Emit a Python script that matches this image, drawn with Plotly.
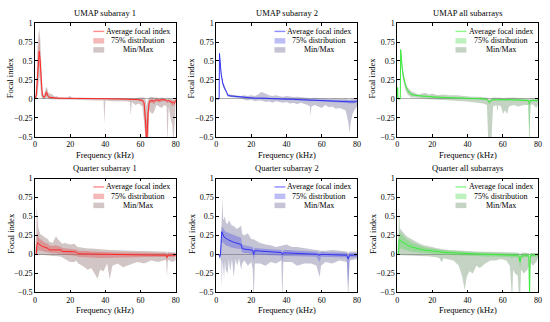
import plotly.graph_objects as go

# ---------------- data ----------------
titles = ["UMAP subarray 1", "UMAP subarray 2", "UMAP all subarrays",
          "Quarter subarray 1", "Quarter subarray 2", "Quarter all subarrays"]
y_tick_vals = [-0.5, -0.25, 0, 0.25, 0.5, 0.75, 1]
y_tick_text = ["\u22120.5", "\u22120.25", "0", "0.25", "0.5", "0.75", "1"]
x_tick_vals = [0, 20, 40, 60, 80]
legend_labels = ["Average focal index", "75% distribution", "Min/Max"]

# Panel 1 : UMAP subarray 1
p1_freq = [0, 0.8, 1.5, 2.0, 2.4, 3.0, 3.5, 4.2, 5.0, 5.8, 6.5, 7.0, 7.6, 8.5, 10, 11, 12, 14, 16, 18,
           20, 21, 23, 26, 30, 34, 38, 39, 39.4, 40, 44, 48, 52, 54, 54.4, 55, 57, 59, 61, 62,
           62.8, 63.5, 64.2, 65, 66.5, 67.5, 69, 70.5, 72, 73.5, 74.8, 75.2, 76, 77, 78, 78.7, 79.3, 80]
p1_avg = [0, 0.05, 0.3, 0.55, 0.63, 0.5, 0.25, 0.05, 0.02, 0.04, 0.09, 0.07, 0.03, 0.02, 0.02, 0.015, 0.01, 0.01, 0.01, 0.008,
          0.01, 0.008, 0.005, 0.005, 0.004, 0.003, 0.002, 0.002, 0.0, 0.002, 0.0, 0.0, -0.003, -0.005, -0.01, -0.005, -0.005, -0.01, -0.02, -0.05,
          -0.3, -0.6, -0.2, -0.03, -0.02, -0.03, -0.01, -0.02, -0.01, -0.01, -0.02, -0.03, -0.02, -0.03, -0.05, -0.04, -0.06, -0.01]
p1_q_hi = [0, 0.1, 0.45, 0.75, 0.8, 0.62, 0.35, 0.08, 0.03, 0.07, 0.13, 0.1, 0.05, 0.03, 0.03, 0.025, 0.02, 0.015, 0.015, 0.012,
           0.015, 0.012, 0.01, 0.01, 0.008, 0.006, 0.005, 0.005, 0.005, 0.005, 0.004, 0.004, 0.002, 0.0, 0.0, 0.0, 0.0, 0.0, 0.0, -0.02,
           -0.15, -0.3, -0.08, -0.01, 0.0, -0.01, 0.0, 0.0, 0.0, 0.0, -0.01, -0.01, -0.01, -0.01, -0.02, -0.02, -0.03, 0.0]
p1_q_lo = [0, 0.02, 0.2, 0.4, 0.45, 0.38, 0.15, 0.03, 0.01, 0.02, 0.05, 0.04, 0.015, 0.01, 0.01, 0.008, 0.005, 0.005, 0.005, 0.004,
           0.005, 0.004, 0.0, 0.0, 0.0, 0.0, -0.002, -0.002, -0.005, -0.002, -0.004, -0.005, -0.008, -0.01, -0.02, -0.01, -0.012, -0.02, -0.04, -0.1,
           -0.6, -0.7, -0.6, -0.06, -0.05, -0.07, -0.03, -0.05, -0.03, -0.03, -0.04, -0.06, -0.04, -0.06, -0.1, -0.08, -0.1, -0.02]
p1_min = [0, 0.0, 0.05, 0.2, 0.3, 0.2, 0.05, 0.0, 0.0, 0.0, 0.02, 0.01, 0.0, -0.005, -0.005, -0.005, -0.01, -0.005, -0.008, -0.01,
          -0.01, -0.01, -0.01, -0.015, -0.02, -0.02, -0.02, -0.02, -0.33, -0.02, -0.03, -0.03, -0.03, -0.04, -0.22, -0.04, -0.08, -0.06, -0.1, -0.3,
          -0.6, -0.7, -0.6, -0.15, -0.2, -0.18, -0.08, -0.1, -0.12, -0.08, -0.1, -0.6, -0.1, -0.25, -0.35, -0.6, -0.3, -0.05]
p1_max = [0, 0.2, 0.7, 0.9, 0.93, 0.8, 0.45, 0.12, 0.05, 0.1, 0.16, 0.14, 0.08, 0.07, 0.06, 0.03, 0.04, 0.02, 0.02, 0.02,
          0.04, 0.02, 0.015, 0.02, 0.015, 0.01, 0.01, 0.01, 0.01, 0.01, 0.01, 0.01, 0.01, 0.01, 0.01, 0.01, 0.01, 0.02, 0.015, 0.02,
          0.0, -0.1, 0.0, 0.02, 0.03, 0.02, 0.02, 0.01, 0.02, 0.01, 0.01, 0.0, 0.01, 0.01, 0.0, -0.01, 0.0, 0.0]

# Panel 2 : UMAP subarray 2
p2_freq = [0, 1.7, 1.9, 2.3, 2.8, 3.7, 4.7, 6.0, 6.5, 8, 10, 12, 14, 16, 18, 20, 22, 24, 25.5, 27,
           28.5, 30, 32, 34, 36, 38, 40, 42, 44, 46, 48, 50, 52, 53.3, 53.7, 54.1, 56, 58, 60, 62,
           64, 66, 68, 70, 72, 73.5, 75, 75.8, 76.5, 77.5, 78.5, 79.3, 80]
p2_avg = [0, 0, 0.6, 0.45, 0.34, 0.21, 0.145, 0.09, 0.05, 0.04, 0.035, 0.03, 0.025, 0.02, 0.015, 0.012, 0.01, 0.01, 0.012, 0.01,
          0.008, 0.005, 0.005, 0.003, 0.0, 0.0, -0.002, -0.005, -0.005, -0.008, -0.01, -0.01, -0.012, -0.015, -0.02, -0.015, -0.015, -0.018, -0.02, -0.02,
          -0.025, -0.025, -0.028, -0.03, -0.03, -0.03, -0.035, -0.04, -0.035, -0.04, -0.04, -0.035, -0.03]
p2_q_hi = [0, 0, 0.61, 0.47, 0.36, 0.23, 0.16, 0.1, 0.06, 0.05, 0.045, 0.04, 0.035, 0.03, 0.025, 0.022, 0.02, 0.02, 0.025, 0.022,
           0.018, 0.015, 0.014, 0.012, 0.01, 0.01, 0.008, 0.005, 0.004, 0.002, 0.0, 0.0, -0.002, -0.005, -0.01, -0.005, -0.005, -0.008, -0.01, -0.01,
           -0.014, -0.013, -0.016, -0.018, -0.018, -0.018, -0.02, -0.025, -0.02, -0.025, -0.025, -0.02, -0.018]
p2_q_lo = [0, 0, 0.58, 0.43, 0.32, 0.19, 0.13, 0.08, 0.04, 0.03, 0.025, 0.02, 0.015, 0.01, 0.005, 0.002, 0.0, 0.0, 0.0, -0.002,
           -0.003, -0.005, -0.006, -0.008, -0.01, -0.01, -0.012, -0.015, -0.016, -0.018, -0.02, -0.022, -0.025, -0.028, -0.04, -0.028, -0.028, -0.03, -0.032, -0.033,
           -0.038, -0.04, -0.042, -0.045, -0.045, -0.048, -0.055, -0.06, -0.055, -0.058, -0.058, -0.052, -0.045]
p2_min = [0, 0, 0.55, 0.4, 0.3, 0.18, 0.12, 0.07, 0.03, 0.025, 0.02, 0.015, 0.01, -0.01, -0.02, -0.01, -0.03, -0.02, -0.02, -0.03,
          -0.04, -0.03, -0.05, -0.03, -0.04, -0.05, -0.04, -0.06, -0.05, -0.07, -0.05, -0.06, -0.08, -0.1, -0.22, -0.1, -0.08, -0.1, -0.12, -0.08,
          -0.11, -0.1, -0.13, -0.12, -0.14, -0.15, -0.3, -0.45, -0.3, -0.2, -0.15, -0.12, -0.1]
p2_max = [0, 0, 0.62, 0.48, 0.37, 0.24, 0.17, 0.11, 0.07, 0.06, 0.05, 0.045, 0.04, 0.05, 0.04, 0.05, 0.04, 0.06, 0.09, 0.08,
          0.06, 0.05, 0.04, 0.05, 0.035, 0.03, 0.04, 0.03, 0.025, 0.03, 0.02, 0.02, 0.015, 0.01, 0.0, 0.01, 0.015, 0.01, 0.005, 0.01,
          0.0, 0.005, 0.0, 0.005, 0.0, 0.005, 0.0, -0.01, 0.0, 0.005, 0.01, 0.0, 0.01]

# Panel 3 : UMAP all subarrays
p3_freq = [0, 0.3, 0.45, 0.6, 1.8, 2.0, 2.5, 3, 4, 5, 6, 7, 8, 10, 12, 14, 16, 18, 20, 23,
           26, 30, 34, 38, 42, 46, 49, 51, 51.8, 52.6, 53.4, 54.5, 56.5, 57, 57.5, 59, 60.2, 61.2, 62.5, 63.5,
           66, 69, 72, 74.5, 75.1, 75.7, 77, 79, 80]
p3_avg = [0, 0.15, 0.05, 0, 0, 0.65, 0.5, 0.38, 0.25, 0.16, 0.11, 0.08, 0.06, 0.05, 0.04, 0.038, 0.035, 0.03, 0.025, 0.022,
          0.02, 0.015, 0.012, 0.01, 0.008, 0.005, 0.0, -0.005, -0.03, -0.04, -0.02, -0.01, -0.01, -0.015, -0.01, -0.01, -0.012, -0.015, -0.01, -0.01,
          -0.012, -0.015, -0.015, -0.02, -0.06, -0.02, -0.02, -0.02, -0.02]
p3_q_hi = [0, 0.15, 0.05, 0, 0, 0.66, 0.52, 0.4, 0.27, 0.18, 0.13, 0.1, 0.075, 0.06, 0.05, 0.048, 0.045, 0.04, 0.035, 0.03,
           0.028, 0.022, 0.02, 0.018, 0.015, 0.012, 0.008, 0.004, -0.01, -0.02, -0.005, 0.0, 0.0, -0.005, 0.0, 0.0, -0.002, -0.005, 0.0, 0.0,
           -0.002, -0.005, -0.005, -0.01, -0.03, -0.01, -0.01, -0.01, -0.01]
p3_q_lo = [0, 0.12, 0.03, 0, 0, 0.62, 0.47, 0.35, 0.22, 0.14, 0.09, 0.065, 0.045, 0.04, 0.03, 0.028, 0.025, 0.02, 0.015, 0.012,
           0.01, 0.006, 0.004, 0.002, 0.0, -0.003, -0.008, -0.015, -0.06, -0.07, -0.04, -0.02, -0.02, -0.03, -0.02, -0.02, -0.025, -0.03, -0.02, -0.02,
           -0.022, -0.028, -0.028, -0.035, -0.6, -0.035, -0.035, -0.035, -0.035]
p3_min = [0, 0.1, 0.0, 0, 0, 0.55, 0.42, 0.3, 0.18, 0.1, 0.06, 0.04, 0.02, 0.02, 0.01, 0.005, 0.0, -0.005, -0.01, -0.01,
          -0.015, -0.02, -0.02, -0.03, -0.04, -0.05, -0.06, -0.08, -0.6, -0.6, -0.6, -0.1, -0.08, -0.17, -0.08, -0.1, -0.2, -0.15, -0.2, -0.1,
          -0.08, -0.1, -0.08, -0.08, -0.6, -0.08, -0.07, -0.12, -0.08]
p3_max = [0, 0.16, 0.06, 0, 0, 0.67, 0.55, 0.43, 0.3, 0.2, 0.15, 0.12, 0.1, 0.08, 0.06, 0.07, 0.08, 0.06, 0.07, 0.05,
          0.06, 0.05, 0.05, 0.04, 0.03, 0.03, 0.02, 0.02, 0.0, -0.01, 0.01, 0.02, 0.02, 0.01, 0.02, 0.015, 0.02, 0.01, 0.02, 0.015,
          0.02, 0.015, 0.01, 0.01, 0.0, 0.01, 0.01, 0.01, 0.01]

# Panel 4 : Quarter subarray 1
p4_freq = [0, 0.8, 1.0, 1.5, 2.0, 3, 4, 5, 6, 7.5, 8, 10, 12, 13, 15, 15.5, 17, 20, 22.5, 23.5,
           24.5, 27, 30, 32, 34, 35.6, 37, 39, 41, 42.5, 44, 47, 50, 54, 58, 62, 66, 70, 74.5, 75,
           75.5, 78, 80]
p4_avg = [0, 0, 0.1, 0.16, 0.14, 0.12, 0.11, 0.1, 0.09, 0.08, 0.06, 0.06, 0.065, 0.06, 0.06, 0.04, 0.04, 0.035, 0.035, 0.03,
          0.01, 0.008, 0.006, 0.005, 0.004, 0.004, 0.003, 0.002, 0.0, 0.0, 0.0, 0.0, -0.002, -0.004, -0.005, -0.006, -0.008, -0.008, -0.01, -0.04,
          -0.01, -0.01, -0.01]
p4_q_hi = [0, 0, 0.2, 0.3, 0.22, 0.2, 0.18, 0.16, 0.15, 0.14, 0.12, 0.11, 0.12, 0.11, 0.1, 0.085, 0.08, 0.075, 0.07, 0.065,
           0.05, 0.05, 0.045, 0.04, 0.04, 0.04, 0.035, 0.035, 0.033, 0.033, 0.03, 0.03, 0.028, 0.026, 0.025, 0.024, 0.022, 0.02, 0.02, 0.0,
           0.02, 0.02, 0.02]
p4_q_lo = [0, 0, 0.02, 0.05, 0.06, 0.05, 0.05, 0.04, 0.035, 0.03, 0.02, 0.015, 0.015, 0.01, 0.01, 0.0, -0.005, -0.01, -0.015, -0.02,
           -0.03, -0.035, -0.04, -0.04, -0.045, -0.045, -0.045, -0.045, -0.042, -0.045, -0.04, -0.04, -0.04, -0.038, -0.036, -0.035, -0.035, -0.035, -0.035, -0.1,
           -0.035, -0.035, -0.03]
p4_min = [0, 0, 0.0, 0.0, 0.0, -0.005, -0.005, -0.008, -0.01, -0.01, -0.012, -0.02, -0.02, -0.025, -0.03, -0.04, -0.06, -0.1, -0.1, -0.08,
          -0.12, -0.15, -0.2, -0.18, -0.25, -0.32, -0.2, -0.22, -0.12, -0.33, -0.15, -0.12, -0.17, -0.13, -0.1, -0.12, -0.08, -0.1, -0.07, -0.3,
          -0.07, -0.1, -0.08]
p4_max = [0, 0.3, 0.63, 0.45, 0.35, 0.27, 0.25, 0.23, 0.22, 0.2, 0.17, 0.15, 0.24, 0.2, 0.15, 0.14, 0.15, 0.13, 0.14, 0.11,
          0.1, 0.09, 0.08, 0.08, 0.075, 0.075, 0.07, 0.065, 0.06, 0.06, 0.06, 0.055, 0.05, 0.05, 0.045, 0.045, 0.04, 0.04, 0.035, 0.02,
          0.035, 0.03, 0.03]

# Panel 5 : Quarter subarray 2
p5_freq = [0, 1.5, 2.0, 2.5, 2.9, 3.2, 3.6, 4.0, 4.5, 5.0, 5.5, 6.5, 7.2, 8.0, 9.0, 10.0, 11.0, 12.0, 13.0, 14.2,
           14.8, 16, 18, 20, 20.8, 21.3, 22, 25, 28, 31, 34, 37, 37.6, 38.2, 40, 43, 46, 50, 54, 57,
           58.8, 59.6, 62, 66, 70, 74.2, 75, 75.8, 78, 80]
p5_avg = [0, 0, -0.03, 0.0, 0.2, 0.3, 0.28, 0.25, 0.23, 0.22, 0.21, 0.2, 0.19, 0.18, 0.17, 0.16, 0.155, 0.15, 0.14, 0.13,
          0.08, 0.07, 0.065, 0.06, 0.055, 0.0, 0.05, 0.045, 0.04, 0.035, 0.03, 0.025, 0.0, 0.02, 0.02, 0.018, 0.015, 0.012, 0.008, 0.003,
          -0.01, 0.0, 0.0, -0.005, -0.01, -0.01, -0.06, -0.01, -0.01, -0.005]
p5_q_hi = [0, 0, 0.0, 0.02, 0.3, 0.38, 0.36, 0.34, 0.32, 0.31, 0.3, 0.29, 0.28, 0.27, 0.26, 0.25, 0.24, 0.24, 0.23, 0.22,
           0.13, 0.12, 0.11, 0.1, 0.1, 0.06, 0.09, 0.08, 0.075, 0.07, 0.065, 0.06, 0.03, 0.06, 0.06, 0.055, 0.05, 0.045, 0.04, 0.035,
           0.02, 0.035, 0.03, 0.03, 0.025, 0.02, -0.02, 0.02, 0.02, 0.02]
p5_q_lo = [0, 0, -0.06, -0.02, 0.08, 0.17, 0.16, 0.15, 0.14, 0.13, 0.12, 0.11, 0.1, 0.1, 0.09, 0.085, 0.08, 0.08, 0.075, 0.07,
           0.03, 0.02, 0.015, 0.01, 0.005, -0.08, 0.0, -0.005, -0.01, -0.012, -0.015, -0.018, -0.1, -0.02, -0.02, -0.02, -0.022, -0.025, -0.028, -0.03,
           -0.1, -0.03, -0.033, -0.035, -0.038, -0.04, -0.4, -0.04, -0.04, -0.035]
p5_min = [0, 0, -0.06, -0.05, -0.1, -0.45, -0.1, -0.15, -0.32, -0.08, -0.2, -0.25, -0.06, -0.22, -0.06, -0.3, -0.06, -0.15, -0.05, -0.2,
          -0.12, -0.08, -0.15, -0.1, -0.2, -0.6, -0.12, -0.12, -0.15, -0.1, -0.12, -0.08, -0.6, -0.1, -0.1, -0.1, -0.15, -0.12, -0.12, -0.15,
          -0.3, -0.15, -0.1, -0.12, -0.08, -0.1, -0.6, -0.08, -0.07, -0.06]
p5_max = [0, 0, 0.0, 0.05, 0.45, 0.5, 0.74, 0.45, 0.48, 0.5, 0.42, 0.4, 0.45, 0.42, 0.38, 0.38, 0.35, 0.34, 0.36, 0.38,
          0.27, 0.25, 0.28, 0.2, 0.2, 0.2, 0.19, 0.15, 0.13, 0.12, 0.1, 0.11, 0.12, 0.12, 0.13, 0.1, 0.1, 0.08, 0.07, 0.06,
          0.05, 0.05, 0.05, 0.06, 0.05, 0.04, 0.02, 0.04, 0.04, 0.04]

# Panel 6 : Quarter all subarrays
p6_freq = [0, 0.8, 1.0, 1.3, 1.6, 2.0, 3, 4, 5, 6, 8, 10, 12, 15, 18, 20, 22, 24, 25.2, 26.5,
           29, 32, 35, 37, 38.4, 39.5, 41, 43, 45, 47, 50, 53, 56, 59, 62, 64, 65.3, 65.9, 67, 68.5,
           69.3, 69.8, 70.4, 72, 74, 74.8, 75.2, 75.6, 77, 79, 80]
p6_avg = [0, 0, 0.15, 0.2, 0.19, 0.18, 0.16, 0.15, 0.14, 0.12, 0.1, 0.085, 0.075, 0.06, 0.05, 0.045, 0.04, 0.035, 0.03, 0.028,
          0.025, 0.02, 0.018, 0.015, 0.012, 0.01, 0.01, 0.008, 0.006, 0.005, 0.003, 0.0, 0.0, -0.003, -0.005, -0.006, -0.01, -0.01, -0.01, -0.012,
          -0.03, -0.1, -0.02, -0.015, -0.015, -0.015, -0.55, -0.015, -0.01, -0.008, -0.005]
p6_q_hi = [0, 0, 0.25, 0.32, 0.3, 0.28, 0.25, 0.23, 0.21, 0.19, 0.16, 0.14, 0.12, 0.1, 0.085, 0.075, 0.068, 0.062, 0.058, 0.055,
           0.05, 0.045, 0.04, 0.038, 0.035, 0.033, 0.032, 0.03, 0.028, 0.027, 0.025, 0.022, 0.02, 0.02, 0.018, 0.017, 0.015, 0.015, 0.015, 0.014,
           0.01, -0.05, 0.01, 0.013, 0.013, 0.012, -0.3, 0.012, 0.012, 0.012, 0.012]
p6_q_lo = [0, 0, 0.05, 0.08, 0.08, 0.08, 0.07, 0.065, 0.06, 0.05, 0.04, 0.03, 0.025, 0.02, 0.012, 0.008, 0.005, 0.0, -0.002, -0.004,
           -0.006, -0.01, -0.012, -0.015, -0.02, -0.02, -0.02, -0.022, -0.024, -0.025, -0.026, -0.028, -0.03, -0.03, -0.032, -0.035, -0.05, -0.04, -0.035, -0.04,
           -0.08, -0.2, -0.06, -0.035, -0.035, -0.04, -0.6, -0.04, -0.035, -0.03, -0.03]
p6_min = [0, 0, 0.0, -0.005, -0.008, -0.01, -0.01, -0.012, -0.012, -0.015, -0.015, -0.018, -0.02, -0.02, -0.025, -0.03, -0.035, -0.05, -0.1, -0.05,
          -0.06, -0.08, -0.15, -0.3, -0.47, -0.3, -0.22, -0.25, -0.15, -0.18, -0.12, -0.08, -0.08, -0.06, -0.08, -0.15, -0.6, -0.2, -0.25, -0.28,
          -0.6, -0.6, -0.2, -0.25, -0.2, -0.15, -0.6, -0.1, -0.15, -0.1, -0.05]
p6_max = [0, 0.3, 0.64, 0.45, 0.35, 0.33, 0.3, 0.27, 0.25, 0.23, 0.2, 0.17, 0.15, 0.12, 0.11, 0.1, 0.085, 0.075, 0.07, 0.065,
          0.06, 0.055, 0.05, 0.045, 0.045, 0.042, 0.04, 0.04, 0.038, 0.035, 0.035, 0.035, 0.03, 0.03, 0.03, 0.03, 0.025, 0.025, 0.03, 0.025,
          0.02, 0.0, 0.02, 0.025, 0.02, 0.02, -0.1, 0.02, 0.02, 0.02, 0.02]

# ---------------- styling ----------------
W, H = 550, 322
FONT = "Liberation Serif"
palettes = {
    "red":   dict(line="rgb(255,40,40)", legline="rgb(255,140,140)",
                  band="rgba(225,80,80,0.40)", mm="rgba(130,95,95,0.36)"),
    "blue":  dict(line="rgb(50,50,245)", legline="rgb(140,140,255)",
                  band="rgba(90,90,230,0.40)", mm="rgba(100,100,145,0.38)"),
    "green": dict(line="rgb(60,235,60)", legline="rgb(140,245,140)",
                  band="rgba(90,220,90,0.40)", mm="rgba(100,140,100,0.38)"),
}
panel_data = [
    (p1_freq, p1_avg, p1_q_lo, p1_q_hi, p1_min, p1_max, "red"),
    (p2_freq, p2_avg, p2_q_lo, p2_q_hi, p2_min, p2_max, "blue"),
    (p3_freq, p3_avg, p3_q_lo, p3_q_hi, p3_min, p3_max, "green"),
    (p4_freq, p4_avg, p4_q_lo, p4_q_hi, p4_min, p4_max, "red"),
    (p5_freq, p5_avg, p5_q_lo, p5_q_hi, p5_min, p5_max, "blue"),
    (p6_freq, p6_avg, p6_q_lo, p6_q_hi, p6_min, p6_max, "green"),
]
lefts = [33.3, 216.5, 399.5]
tops = [19.6, 179.6]
PW, PH = 142.4, 117.1


def px(x):
    return x / W


def py(y):
    return 1 - y / H


fig = go.Figure()
annotations = []
shapes = []

for i, (f, avg, qlo, qhi, mn, mx, cname) in enumerate(panel_data):
    n = i + 1
    xa = "x" if n == 1 else f"x{n}"
    ya = "y" if n == 1 else f"y{n}"
    pal = palettes[cname]
    left = lefts[i % 3]
    top = tops[i // 3]

    common = dict(xaxis=xa, yaxis=ya, mode="lines", hoverinfo="skip", showlegend=False)
    fig.add_trace(go.Scatter(x=f, y=mn, line=dict(width=0, color=pal["mm"]), **common))
    fig.add_trace(go.Scatter(x=f, y=mx, line=dict(width=0, color=pal["mm"]),
                             fill="tonexty", fillcolor=pal["mm"], **common))
    fig.add_trace(go.Scatter(x=f, y=qlo, line=dict(width=0, color=pal["band"]), **common))
    fig.add_trace(go.Scatter(x=f, y=qhi, line=dict(width=0, color=pal["band"]),
                             fill="tonexty", fillcolor=pal["band"], **common))
    fig.add_trace(go.Scatter(x=f, y=avg, line=dict(width=1.0, color=pal["line"]), **common))

    axis_common = dict(showline=True, linecolor="black", linewidth=0.8, mirror="ticks",
                       ticks="inside", ticklen=3, tickwidth=0.6, tickcolor="black",
                       showgrid=False, tickfont=dict(family=FONT, size=8, color="black"))
    fig.layout[f"xaxis{'' if n == 1 else n}"] = dict(
        domain=[px(left), px(left + PW)], anchor=ya, range=[0, 80],
        tickvals=x_tick_vals, zeroline=False, **axis_common)
    fig.layout[f"yaxis{'' if n == 1 else n}"] = dict(
        domain=[py(top + PH), py(top)], anchor=xa, range=[-0.5, 1],
        tickvals=y_tick_vals, ticktext=y_tick_text,
        zeroline=True, zerolinecolor="rgb(175,175,175)", zerolinewidth=0.8, **axis_common)

    # title, axis titles
    annotations.append(dict(text=titles[i], x=px(left + PW / 2), y=py(top - 10.5),
                            xref="paper", yref="paper", showarrow=False,
                            xanchor="center", yanchor="middle",
                            font=dict(family=FONT, size=8.5, color="black")))
    annotations.append(dict(text="Frequency (kHz)", x=px(left + PW / 2), y=py(top + PH + 18.5),
                            xref="paper", yref="paper", showarrow=False,
                            xanchor="center", yanchor="middle",
                            font=dict(family=FONT, size=8.5, color="black")))
    annotations.append(dict(text="Focal index", x=px(left - 25), y=py(top + PH / 2 - 2),
                            xref="paper", yref="paper", showarrow=False, textangle=-90,
                            xanchor="center", yanchor="middle",
                            font=dict(family=FONT, size=8.5, color="black")))

    # legend (drawn manually, top-right inside)
    rows = [top + 8.6, top + 18.3, top + 27.6]
    sx0, sx1 = left + 59, left + 70
    shapes.append(dict(type="line", xref="paper", yref="paper", layer="above",
                       x0=px(sx0), x1=px(sx1), y0=py(rows[0]), y1=py(rows[0]),
                       line=dict(color=pal["legline"], width=1.4)))
    shapes.append(dict(type="rect", xref="paper", yref="paper",
                       x0=px(sx0), x1=px(sx1), y0=py(rows[1] - 2.8), y1=py(rows[1] + 2.8),
                       fillcolor=pal["band"], line=dict(width=0)))
    shapes.append(dict(type="rect", xref="paper", yref="paper",
                       x0=px(sx0), x1=px(sx1), y0=py(rows[2] - 2.8), y1=py(rows[2] + 2.8),
                       fillcolor=pal["mm"], line=dict(width=0)))
    for lab, ry in zip(legend_labels, rows):
        annotations.append(dict(text=lab, x=px(left + 104.5), y=py(ry),
                                xref="paper", yref="paper", showarrow=False,
                                xanchor="center", yanchor="middle",
                                font=dict(family=FONT, size=8, color="black")))

fig.update_layout(width=W, height=H, margin=dict(l=0, r=0, t=0, b=0),
                  paper_bgcolor="white", plot_bgcolor="white",
                  annotations=annotations, shapes=shapes,
                  font=dict(family=FONT, size=8, color="black"))

fig.write_html("out.html", config={"displayModeBar": False},
               post_script="document.body.style.margin='0px';document.body.style.padding='0px';")
